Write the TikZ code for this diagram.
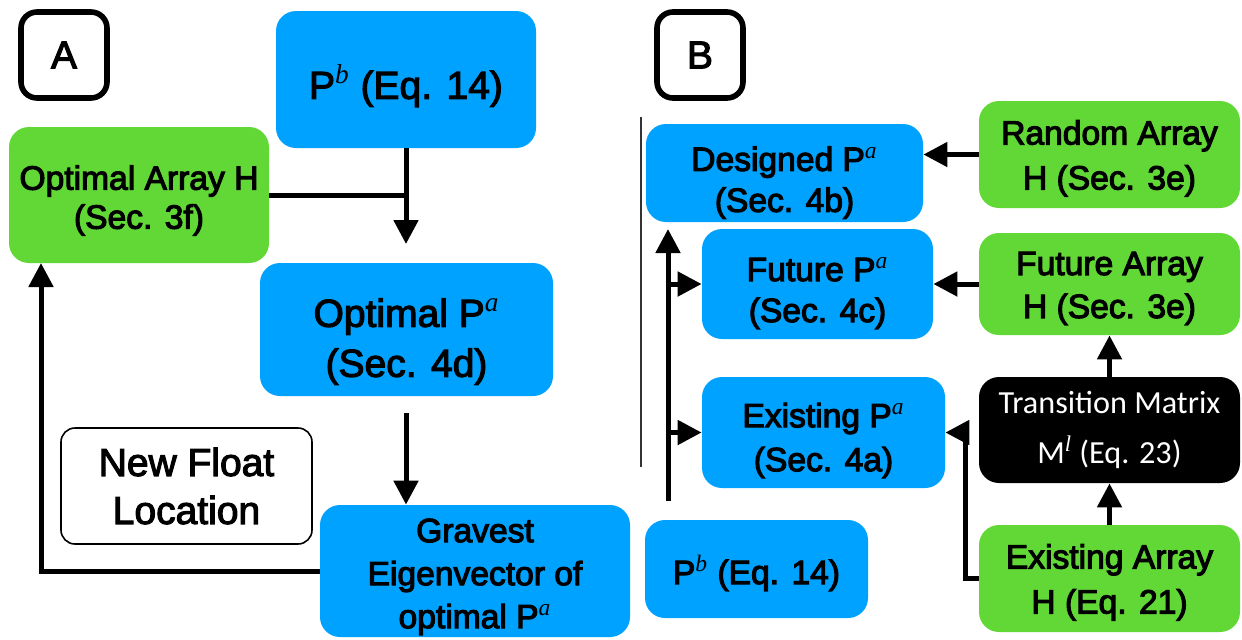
\documentclass[tikz,border=0pt]{standalone}
\usepackage{fontspec}
\setmainfont{Liberation Sans}
\newfontfamily\serifit{Liberation Serif}
\newfontfamily\calib{Carlito}
\usetikzlibrary{arrows.meta}
\definecolor{kblue}{HTML}{00A2FF}
\definecolor{kgreen}{HTML}{61D836}
\newcommand\supit[1]{\special{pdf:literal direct 0 Tr}\textsuperscript{\serifit\itshape #1}\special{pdf:literal direct 2 Tr}}
\newcommand\dn[1]{\rule{0pt}{#1}}
\newcommand\emb{\special{pdf:literal direct 2 Tr 0.55 w}}
\tikzset{
  box/.style={rectangle, rounded corners=10pt, inner sep=0pt, align=center, anchor=center, execute at begin node=\emb},
  bluebox/.style={box, fill=kblue},
  greenbox/.style={box, fill=kgreen},
  std/.style={font=\fontsize{16.8}{21.5}\selectfont},
  big/.style={font=\fontsize{19.5}{25}\selectfont},
  lab/.style={box, draw=black, line width=2.8pt, rounded corners=8pt, font=\fontsize{19.5}{25}\selectfont},
  conn/.style={line width=2.5pt, draw=black},
  arr/.style={conn, -{Triangle[width=12pt,length=12pt]}},
}
\begin{document}
\begin{tikzpicture}[x=0.5pt,y=-0.5pt]
\useasboundingbox (0,0) rectangle (1242,639);
% labels
\node[lab, minimum width=43pt, minimum height=43pt] (labA) at (64,55) {A};
\node[lab, minimum width=43pt, minimum height=43pt] (labB) at (700,55) {B};
% panel A
\node[bluebox, big, minimum width=130pt, minimum height=68.5pt] (pb1) at (406,79.5) {\dn{1.2em}P\supit{b} (Eq. 14)};
\node[greenbox, minimum width=130pt, minimum height=68pt, font=\fontsize{16.8}{19.5}\selectfont] (optH) at (139,195) {\dn{1.05em}Optimal Array H\\(Sec. 3f)};
\node[bluebox, big, minimum width=146.5pt, minimum height=66.5pt] (optP) at (406.5,329.5) {\dn{1.35em}Optimal P\supit{a}\\(Sec. 4d)};
\node[box, draw=black, line width=0.8pt, rounded corners=7pt, minimum width=125.5pt, minimum height=58pt, font=\fontsize{19.5}{24}\selectfont] (newf) at (186.5,486) {New Float\\Location};
\node[bluebox, std, minimum width=155pt, minimum height=66pt] (grav) at (475,571) {\dn{1.05em}Gravest\\Eigenvector of\\optimal P\supit{a}};
\coordinate (j1) at (406,195);
\coordinate (m1) at (406,244);
\coordinate (s2) at (406,413);
\coordinate (c3) at (41,263);
\draw[arr] (pb1.south) -- (m1);
\draw[conn] (optH.east) -- (j1);
\draw[arr] (s2) -- (s2 |- grav.north);
\draw[arr] (grav.west) -| (c3);
% panel B
\draw[line width=0.8pt, draw=black!80] (641,117) -- (641,467);
\node[bluebox, minimum width=138.5pt, minimum height=49pt, font=\fontsize{16.8}{20.5}\selectfont] (des) at (784.5,173) {\dn{1.3em}Designed P\supit{a}\\(Sec. 4b)};
\node[greenbox, minimum width=130.5pt, minimum height=53.5pt, font=\fontsize{16.8}{22.5}\selectfont] (rand) at (1109.5,154.5) {\dn{0.95em}Random Array\\H (Sec. 3e)};
\node[bluebox, minimum width=115.5pt, minimum height=55pt, font=\fontsize{16.8}{20.5}\selectfont] (fut) at (817.5,284) {\dn{1.25em}Future P\supit{a}\\(Sec. 4c)};
\node[greenbox, minimum width=130.5pt, minimum height=51pt, font=\fontsize{16.8}{21.5}\selectfont] (futH) at (1109.5,284) {\dn{0.95em}Future Array\\H (Sec. 3e)};
\node[bluebox, minimum width=121.5pt, minimum height=55.5pt, font=\fontsize{16.8}{22}\selectfont] (exi) at (823.5,432.5) {\dn{1.2em}Existing P\supit{a}\\(Sec. 4a)};
\node[rectangle, rounded corners=10pt, inner sep=0pt, align=center, fill=black, text=white, minimum width=130.5pt, minimum height=53pt, font=\calib\fontsize{16.1}{25}\selectfont] (trans) at (1109.5,430) {Transition Matrix\\M\textsuperscript{\serifit\itshape l} (Eq. 23)};
\node[greenbox, minimum width=130.5pt, minimum height=53.5pt, font=\fontsize{16.8}{22.5}\selectfont] (exiH) at (1109.5,578.5) {\dn{0.95em}Existing Array\\H (Eq. 21)};
\node[bluebox, std, minimum width=111.5pt, minimum height=49pt] (pb2) at (756.5,569) {\dn{1.1em}P\supit{b} (Eq. 14)};
\coordinate (b0) at (668,501);
\coordinate (b1) at (668,229);
\coordinate (b2) at (668,284);
\coordinate (b3) at (668,432.5);
\draw[arr] (b0) -- (b1);
\draw[arr] (b2) -- (fut.west);
\draw[arr] (b3) -- (exi.west);
\draw[arr] (rand.west) -- (rand.west -| des.east);
\draw[arr] (futH.west) -- (fut.east);
\draw[arr] (trans.north) -- (futH.south);
\draw[arr] (exiH.north) -- (trans.south);
\draw[arr] (exiH.west) -- ++(-13,0) |- (exi.east);
\end{tikzpicture}
\end{document}
